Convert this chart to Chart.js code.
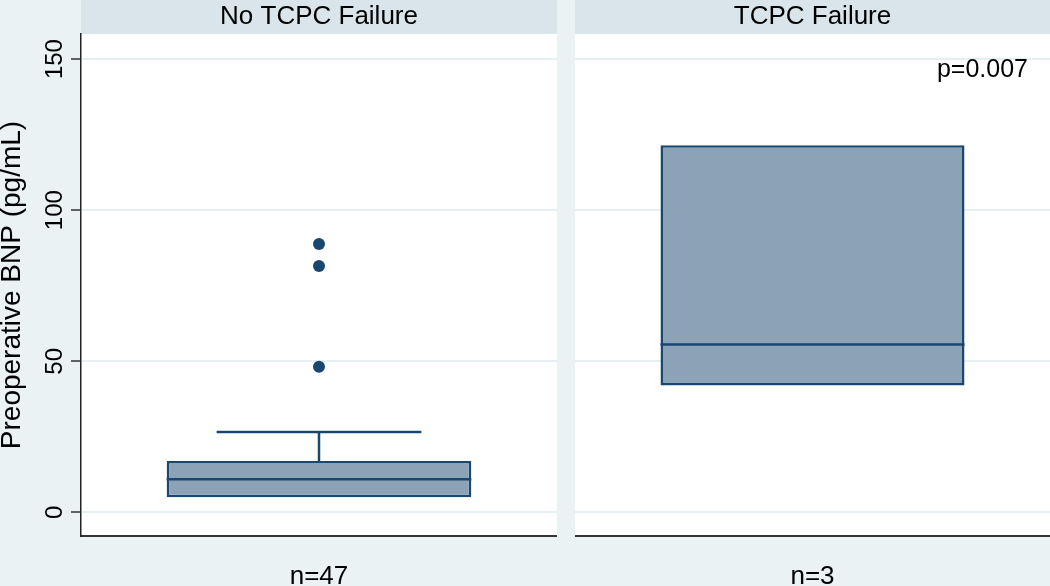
<!DOCTYPE html>
<html>
<head>
<meta charset="utf-8">
<title>Preoperative BNP by TCPC failure</title>
<script src="https://cdn.jsdelivr.net/npm/chart.js@4"></script>
<style>
  body { margin: 0; background: #eaf2f3; }
  #wrap { position: relative; width: 1050px; height: 586px; overflow: hidden; }
  canvas { position: absolute; top: 0; }
  #leftChart { left: 0; }
  #rightChart { left: 575px; }
</style>
</head>
<body>
<div id="wrap">
  <canvas id="leftChart" width="557" height="586"></canvas>
  <canvas id="rightChart" width="475" height="586"></canvas>
</div>
<script>
// box plot summary
var groups = ['No TCPC Failure', 'TCPC Failure'];
var counts = [47, 3];
var q1 = [5, 42];
var medians = [11, 55.6];
var q3 = [17, 121.5];
var whiskerLow = [5, 42];
var whiskerHigh = [26.6, 121.5];
var outliers = [[48.2, 81.5, 88.8], []];
var yTicks = [0, 50, 100, 150];
var yMin = -7.8;
var yMax = 158.3;
var pText = 'p=0.007';
var yTitle = 'Preoperative BNP (pg/mL)';

var navy = '#1a476f';
var boxFill = '#8ca3b7';
var bgColor = '#eaf2f3';
var stripColor = '#d9e5ea';
var gridColor = '#e6eff1';
var fontName = '"Liberation Sans", Arial, sans-serif';

Chart.defaults.font.family = fontName;

// outer background, header strip and white plot region
var panelBg = {
    id: 'panelBg',
    beforeDraw: function(chart) {
        var ctx = chart.ctx, a = chart.chartArea;
        ctx.save();
        ctx.fillStyle = bgColor;
        ctx.fillRect(0, 0, chart.width, chart.height);
        ctx.fillStyle = stripColor;
        ctx.fillRect(a.left, 0, a.right - a.left, a.top);
        ctx.fillStyle = '#ffffff';
        ctx.fillRect(a.left, a.top, a.right - a.left, a.bottom - a.top);
        ctx.restore();
    }
};

// median line and whiskers, placed on the box drawn by the bar dataset
var boxParts = {
    id: 'boxParts',
    afterDatasetsDraw: function(chart, args, opts) {
        var i = opts.group;
        var bar = chart.getDatasetMeta(0).data[0];
        var y = chart.scales.y;
        var ctx = chart.ctx;
        var half = bar.width / 2;
        var cap = bar.width * 0.336;
        ctx.save();
        ctx.strokeStyle = navy;
        ctx.lineWidth = 2.5;
        ctx.beginPath();
        ctx.moveTo(bar.x - half, y.getPixelForValue(medians[i]));
        ctx.lineTo(bar.x + half, y.getPixelForValue(medians[i]));
        if (whiskerHigh[i] > q3[i]) {
            ctx.moveTo(bar.x, y.getPixelForValue(q3[i]));
            ctx.lineTo(bar.x, y.getPixelForValue(whiskerHigh[i]));
            ctx.moveTo(bar.x - cap, y.getPixelForValue(whiskerHigh[i]));
            ctx.lineTo(bar.x + cap, y.getPixelForValue(whiskerHigh[i]));
        }
        if (whiskerLow[i] < q1[i]) {
            ctx.moveTo(bar.x, y.getPixelForValue(q1[i]));
            ctx.lineTo(bar.x, y.getPixelForValue(whiskerLow[i]));
            ctx.moveTo(bar.x - cap, y.getPixelForValue(whiskerLow[i]));
            ctx.lineTo(bar.x + cap, y.getPixelForValue(whiskerLow[i]));
        }
        ctx.stroke();
        ctx.restore();
    }
};

// p value note in the corner of the panel
var pNote = {
    id: 'pNote',
    afterDraw: function(chart, args, opts) {
        if (!opts.text) return;
        var ctx = chart.ctx, a = chart.chartArea;
        ctx.save();
        ctx.font = '25px ' + fontName;
        ctx.fillStyle = '#000';
        ctx.textAlign = 'right';
        ctx.fillText(opts.text, a.right - 22, a.top + 43);
        ctx.restore();
    }
};

function makePanel(canvasId, i, showAxis) {
    var labels = ['n=' + counts[i]];
    var pts = outliers[i].map(function(v) {
        return { x: labels[0], y: v };
    });
    return new Chart(document.getElementById(canvasId), {
        type: 'bar',
        data: {
            labels: labels,
            datasets: [{
                data: [[q1[i], q3[i]]],
                backgroundColor: boxFill,
                borderColor: navy,
                borderWidth: 2.5,
                borderSkipped: false,
                barPercentage: 0.64,
                categoryPercentage: 1
            }, {
                type: 'line',
                data: pts,
                showLine: false,
                pointRadius: 6,
                pointBackgroundColor: navy,
                pointBorderColor: navy,
                pointBorderWidth: 0
            }]
        },
        options: {
            responsive: false,
            animation: false,
            layout: { padding: 0, autoPadding: false },
            plugins: {
                legend: { display: false },
                tooltip: { enabled: false },
                title: {
                    display: true,
                    text: groups[i],
                    fullSize: false,
                    color: '#000',
                    font: { size: 26, weight: 'normal', lineHeight: 1 },
                    padding: { top: 4, bottom: 4 }
                },
                boxParts: { group: i },
                pNote: { text: i == 1 ? pText : '' }
            },
            scales: {
                x: {
                    grid: { display: false },
                    border: { color: '#333', width: 2 },
                    ticks: { color: '#000', font: { size: 26 }, padding: 17 },
                    afterFit: function(s) { s.height = 50; }
                },
                y: {
                    min: yMin,
                    max: yMax,
                    afterBuildTicks: function(s) {
                        s.ticks = yTicks.map(function(v) { return { value: v }; });
                    },
                    grid: {
                        color: gridColor,
                        lineWidth: 2,
                        drawTicks: showAxis,
                        tickLength: 10,
                        tickColor: '#333',
                        tickWidth: 1.5
                    },
                    border: { display: showAxis, color: '#222', width: 1.5 },
                    ticks: {
                        display: showAxis,
                        color: '#000',
                        font: { size: 24 },
                        minRotation: 90,
                        maxRotation: 90,
                        crossAlign: 'center',
                        padding: -4
                    },
                    title: {
                        display: showAxis,
                        text: yTitle,
                        color: '#000',
                        font: { size: 28, lineHeight: 0.88 },
                        padding: 0
                    },
                    afterFit: function(s) { s.width = showAxis ? 81 : 0; }
                }
            }
        },
        plugins: [panelBg, boxParts, pNote]
    });
}

var leftChart = makePanel('leftChart', 0, true);
var rightChart = makePanel('rightChart', 1, false);
</script>
</body>
</html>
